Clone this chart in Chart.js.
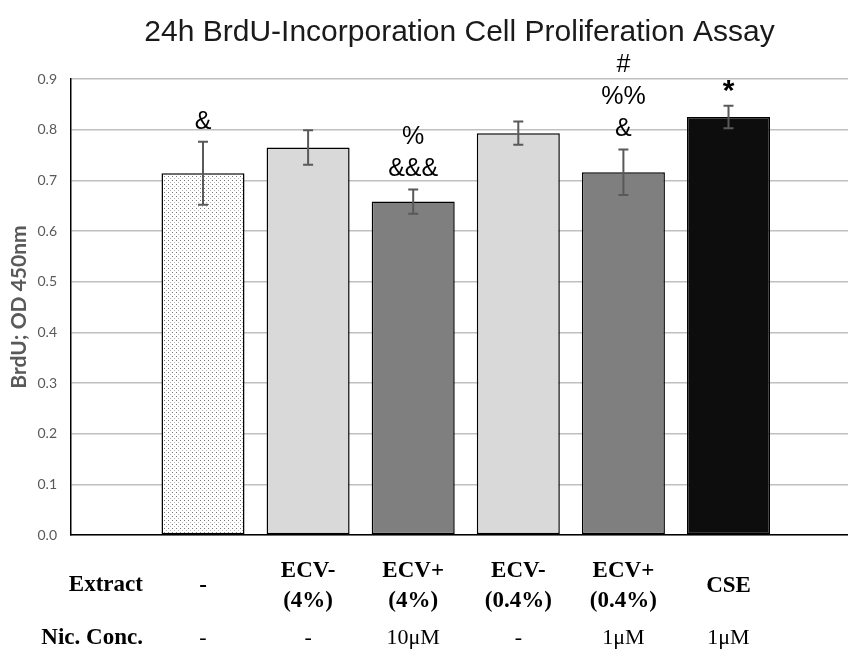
<!DOCTYPE html>
<html>
<head>
<meta charset="utf-8">
<script src="https://cdn.jsdelivr.net/npm/chart.js@4.4.1/dist/chart.umd.min.js"></script>
<style>
  html, body { margin: 0; padding: 0; background: #fff; }
  #wrap { width: 848px; height: 649px; position: relative; }
</style>
</head>
<body>
<div id="wrap"><canvas id="chart"></canvas></div>
<script>
// Dados do gráfico
const positions = [1, 2, 3, 4, 5, 6];
const extractLabels = [['-'], ['ECV-', '(4%)'], ['ECV+', '(4%)'], ['ECV-', '(0.4%)'], ['ECV+', '(0.4%)'], ['CSE']];
const nicConc = ['-', '-', '10μM', '-', '1μM', '1μM'];
const brdu = [0.714, 0.765, 0.658, 0.793, 0.716, 0.825];
const brduErr = [0.062, 0.034, 0.024, 0.023, 0.045, 0.022];
const marks = [['&'], [], ['%', '&&&'], [], ['#', '%%', '&'], ['*']];
const yTicks = [0, 0.1, 0.2, 0.3, 0.4, 0.5, 0.6, 0.7, 0.8, 0.9];

// Estilos
const makeDots = () => {
    const c = document.createElement('canvas');
    c.width = 4; c.height = 4;
    const g = c.getContext('2d');
    g.fillStyle = '#ffffff';
    g.fillRect(0, 0, 4, 4);
    g.fillStyle = '#7a7a7a';
    g.fillRect(0, 0, 1, 1);
    g.fillStyle = '#b5b5b5';
    g.fillRect(2, 2, 1, 1);
    return g.createPattern(c, 'repeat');
};
const barColors = [makeDots(), '#d9d9d9', '#7f7f7f', '#d9d9d9', '#7f7f7f', '#0d0d0d'];

// Barras de erro + símbolos
const errorBars = {
    id: 'errorBars',
    afterDatasetsDraw(chart) {
        const { ctx, scales: { x, y } } = chart;
        ctx.save();
        ctx.strokeStyle = '#595959';
        ctx.lineWidth = 2;
        brdu.forEach((v, i) => {
            const px = x.getPixelForValue(positions[i]);
            const top = y.getPixelForValue(v + brduErr[i]);
            const bot = y.getPixelForValue(v - brduErr[i]);
            ctx.beginPath();
            ctx.moveTo(px, top); ctx.lineTo(px, bot);
            ctx.moveTo(px - 5, top); ctx.lineTo(px + 5, top);
            ctx.moveTo(px - 5, bot); ctx.lineTo(px + 5, bot);
            ctx.stroke();
        });
        ctx.fillStyle = '#000';
        ctx.textAlign = 'center';
        ctx.textBaseline = 'middle';
        marks.forEach((lines, i) => {
            const px = x.getPixelForValue(positions[i]);
            const base = y.getPixelForValue(brdu[i] + brduErr[i]) - 20;
            lines.slice().reverse().forEach((t, j) => {
                ctx.font = t === '*' ? 'bold 30px "Liberation Sans"' : '25px "Liberation Sans"';
                ctx.fillText(t, px, base - j * 32 + (t === '*' ? 6 : 0));
            });
        });
        ctx.restore();
    }
};

// Tabela abaixo do eixo
const table = {
    id: 'table',
    afterDraw(chart) {
        const { ctx, chartArea, scales: { x } } = chart;
        const base = chartArea.bottom;
        ctx.save();
        ctx.fillStyle = '#000';
        ctx.textBaseline = 'middle';
        ctx.font = 'bold 23px "Liberation Serif"';
        ctx.textAlign = 'right';
        const head = x.getPixelForValue(0) + 45;
        ctx.fillText('Extract', head, base + 50);
        ctx.fillText('Nic. Conc.', head, base + 103);
        ctx.textAlign = 'center';
        extractLabels.forEach((lines, i) => {
            const px = x.getPixelForValue(positions[i]);
            const start = base + 51 - (lines.length - 1) * 15;
            lines.forEach((t, j) => ctx.fillText(t, px, start + j * 30));
        });
        ctx.font = '22px "Liberation Serif"';
        nicConc.forEach((t, i) => ctx.fillText(t, x.getPixelForValue(positions[i]), base + 103));
        ctx.restore();
    }
};

new Chart(document.getElementById('chart'), {
    type: 'bar',
    data: {
        datasets: [{
            data: brdu.map((v, i) => ({ x: positions[i], y: v })),
            backgroundColor: barColors,
            borderColor: '#000',
            borderWidth: 1.5,
            borderSkipped: false,
            barPercentage: 0.79,
            categoryPercentage: 1
        }]
    },
    options: {
        responsive: true,
        maintainAspectRatio: false,
        animation: false,
        plugins: {
            legend: { display: false },
            tooltip: { enabled: false },
            title: {
                display: true,
                fullSize: false,
                text: '24h BrdU-Incorporation Cell Proliferation Assay',
                color: '#1a1a1a',
                font: { family: '"Liberation Sans"', size: 30, weight: 'normal', lineHeight: 1.2 },
                padding: { top: 15, bottom: 28 }
            }
        },
        scales: {
            x: {
                type: 'linear',
                offset: false,
                min: -0.256,
                max: 7.137,
                afterBuildTicks: (s) => { s.ticks = positions.map(v => ({ value: v })); },
                afterFit: (s) => { s.height = 114; },
                ticks: { display: false },
                grid: { display: false, offset: false },
                border: { color: '#000', width: 1.5 }
            },
            y: {
                min: 0,
                max: 0.9,
                afterBuildTicks: (s) => { s.ticks = yTicks.map(v => ({ value: v })); },
                afterFit: (s) => { s.width = 71; },
                ticks: {
                    color: '#595959',
                    font: { family: 'Lato', size: 14 },
                    padding: 14,
                    callback: (v) => v.toFixed(1)
                },
                grid: { color: '#c0c0c0', lineWidth: 1.5, drawTicks: false },
                border: { color: '#000', width: 1.5 },
                title: {
                    display: true,
                    text: 'BrdU; OD 450nm',
                    color: '#595959',
                    font: { family: 'Lato', size: 21, weight: 'bold' },
                    padding: { top: 7 }
                }
            }
        }
    },
    plugins: [errorBars, table]
});
</script>
</body>
</html>
